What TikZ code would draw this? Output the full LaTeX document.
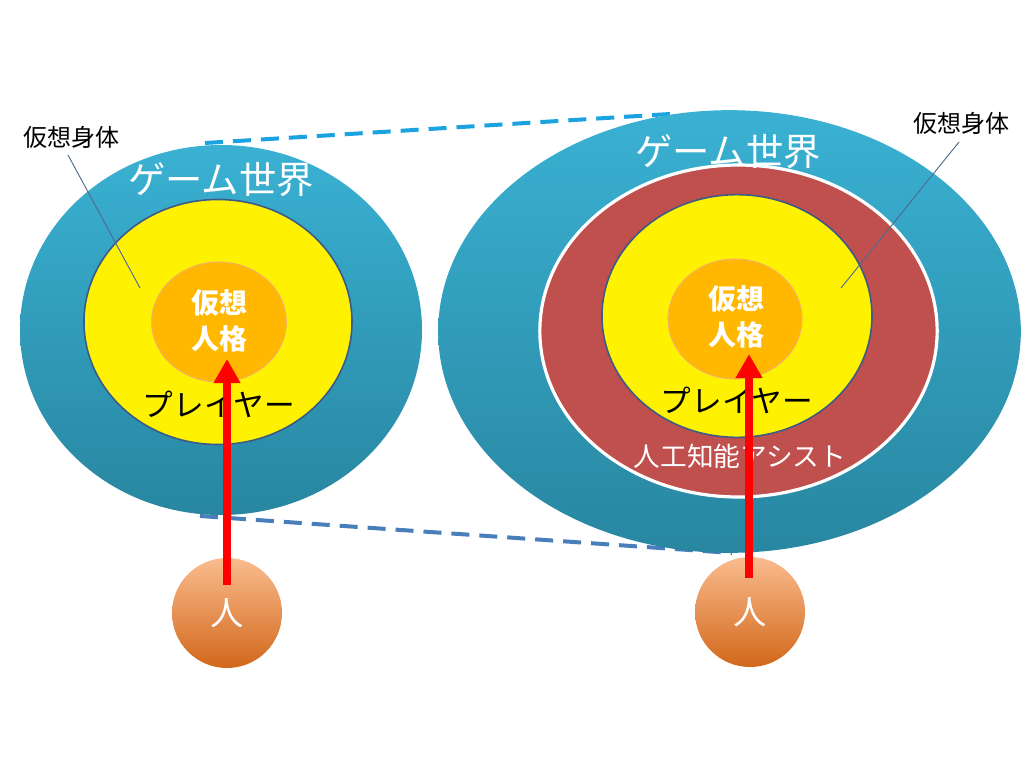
\documentclass[tikz,border=0pt]{standalone}
\usepackage{fontspec}
\newfontfamily\jp{Noto Sans CJK JP}
\usetikzlibrary{shapes.geometric,arrows.meta}
\definecolor{blueTop}{HTML}{3AB1D3}
\definecolor{blueBot}{HTML}{2886A0}
\definecolor{ringRed}{HTML}{C0504D}
\definecolor{innerOr}{HTML}{FFB700}
\definecolor{innerOrLine}{HTML}{F2B45C}
\definecolor{persTop}{HTML}{F9BC8E}
\definecolor{persBot}{HTML}{D2671A}
\definecolor{yelLine}{HTML}{3B5A86}
\definecolor{dashTop}{HTML}{1AA3E0}
\definecolor{dashBot}{HTML}{4A7EBB}
\definecolor{leader}{HTML}{4F6A8F}
\begin{document}
\begin{tikzpicture}[x=0.75pt,y=-0.75pt,
  ring/.style={ellipse, inner sep=0pt, outer sep=0pt},
  world/.style={ring, top color=blueTop, bottom color=blueBot},
  assist/.style={ring, fill=ringRed, draw=white, line width=2.4pt},
  body/.style={ring, fill=yellow, draw=yelLine, line width=1.2pt},
  core/.style={ring, fill=innerOr, draw=innerOrLine, line width=0.8pt},
  person/.style={ring, top color=persTop, bottom color=persBot, minimum width=82.5pt, minimum height=82.5pt},
  worldtxt/.style={font=\jp\fontsize{28}{30}\selectfont, text=white},
  playertxt/.style={font=\jp\fontsize{23}{25}\selectfont, text=black},
  coretxt/.style={font=\jp\bfseries\fontsize{21}{27}\selectfont, text=white, align=center},
  labeltxt/.style={font=\jp\fontsize{18}{20}\selectfont, text=black},
  assisttxt/.style={font=\jp\fontsize{20}{22}\selectfont, text=white},
  humantxt/.style={font=\jp\fontsize{25}{27}\selectfont, text=white},
  dashline/.style={line width=3pt, dash pattern=on 13.5pt off 7.5pt},
  leaderline/.style={draw=leader, line width=0.7pt},
  redarrow/.style={draw=red, line width=6pt, -{Triangle[width=19pt,length=18pt]}}
]
\useasboundingbox (0,0) rectangle (1024,768);

% dashed projection lines
\coordinate (dt1) at (205,143);
\coordinate (dt2) at (670,114);
\coordinate (db1) at (200,516);
\coordinate (db2) at (732,553);
\draw[dashline, draw=dashTop] (dt1) -- (dt2);
\draw[dashline, draw=dashBot] (db1) -- (db2);

% left diagram
\node[world, minimum width=301.5pt, minimum height=277.5pt] (lw) at (221,330) {};
\node[body, minimum width=201pt, minimum height=183.75pt] (lb) at (218,322) {};
\node[core, minimum width=101pt, minimum height=90pt] (lc) at (219,322) {};
\node[worldtxt] (lwt) at (221,180) {ゲーム世界};
\node[coretxt] (lct) at (219,321) {仮想\\人格};
\node[playertxt] (lpt) at (219,404) {プレイヤー};
\node[labeltxt] (lbl) at (71,137) {仮想身体};
\coordinate (ll1) at (68,155);
\coordinate (ll2) at (140,288);
\draw[leaderline] (ll1) -- (ll2);

% right diagram
\node[world, minimum width=437pt, minimum height=332pt] (rw) at (729.5,331.5) {};
\node[assist, minimum width=298pt, minimum height=249pt] (ra) at (738.5,331) {};
\node[body, minimum width=202.5pt, minimum height=182pt] (rb) at (737,316) {};
\node[core, minimum width=100.5pt, minimum height=90pt] (rc) at (735,319) {};
\node[worldtxt] (rwt) at (728,152) {ゲーム世界};
\node[coretxt] (rct) at (736,317) {仮想\\人格};
\node[playertxt] (rpt) at (737,400) {プレイヤー};
\node[assisttxt] (rat) at (740,456) {人工知能アシスト};
\node[labeltxt] (rbl) at (961,123) {仮想身体};
\coordinate (rl1) at (959,142);
\coordinate (rl2) at (841,288);
\draw[leaderline] (rl1) -- (rl2);

% persons
\node[person] (lp) at (227,613) {};
\node[humantxt] (lpt2) at (227,613) {人};
\node[person] (rp) at (750,612) {};
\node[humantxt] (rpt2) at (750,612) {人};

% arrows
\coordinate (la0) at (227,585);
\coordinate (la1) at (227,359);
\coordinate (ra0) at (749,578);
\coordinate (ra1) at (749,354);
\draw[redarrow] (la0) -- (la1);
\draw[redarrow] (ra0) -- (ra1);
\end{tikzpicture}
\end{document}
